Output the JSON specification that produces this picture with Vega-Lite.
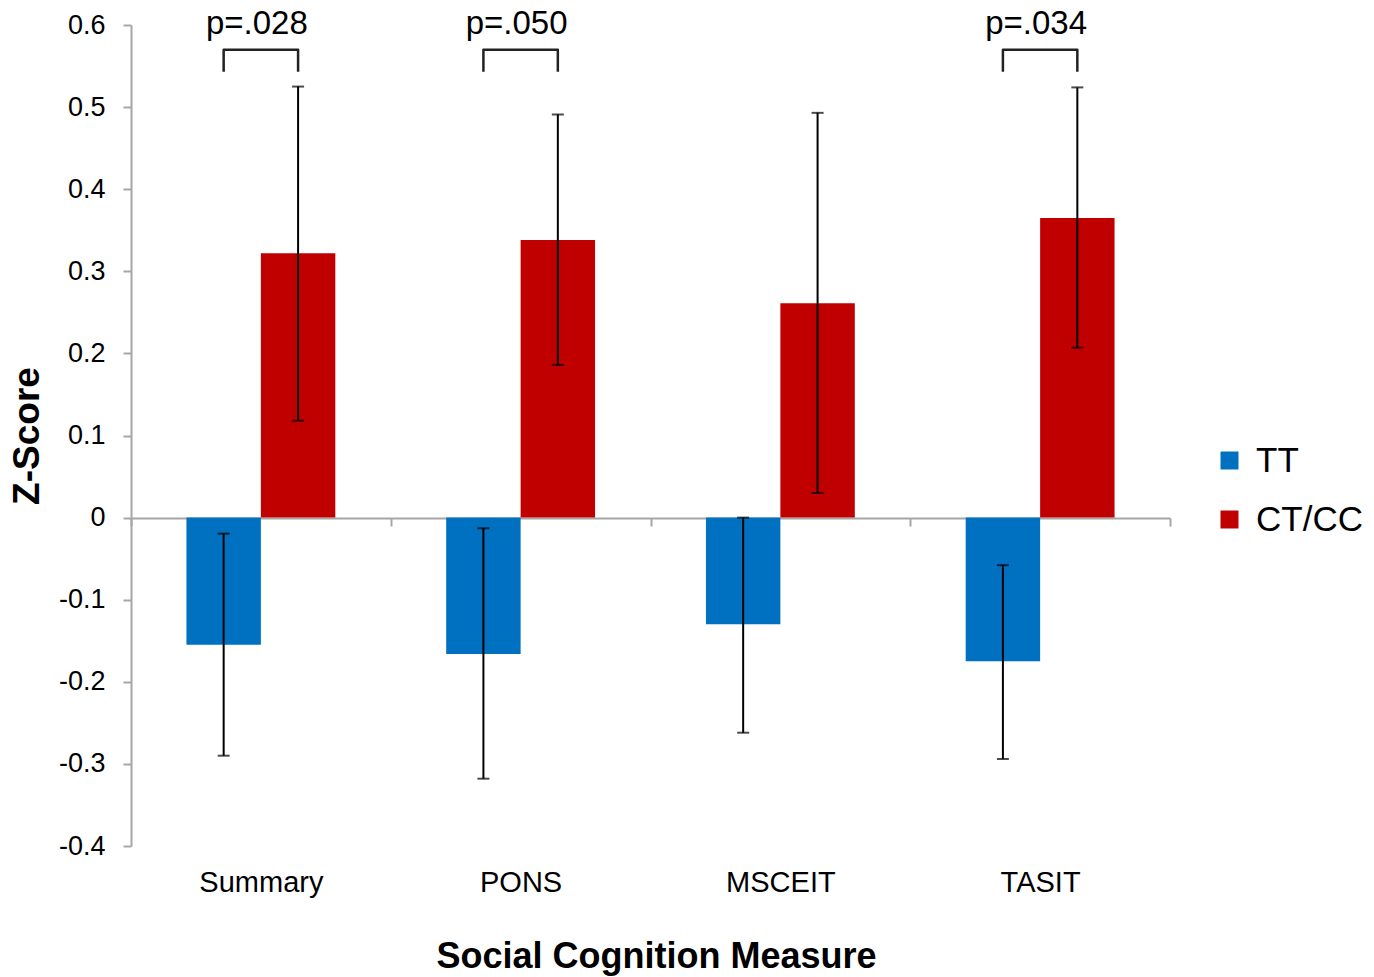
{
  "$schema": "https://vega.github.io/schema/vega-lite/v6.json",
  "width": 1039,
  "height": 821,
  "autosize": {"type": "none"},
  "padding": {"left": 131, "top": 25, "right": 204, "bottom": 131},
  "background": "white",
  "config": {
    "view": {"stroke": null},
    "font": "Liberation Sans",
    "axis": {"grid": false}
  },
  "datasets": {
    "bars": [
      {"measure": "Summary", "group": "TT", "value": -0.155, "lo": -0.29, "hi": -0.0195},
      {"measure": "Summary", "group": "CT/CC", "value": 0.322, "lo": 0.118, "hi": 0.525},
      {"measure": "PONS", "group": "TT", "value": -0.166, "lo": -0.318, "hi": -0.013},
      {"measure": "PONS", "group": "CT/CC", "value": 0.338, "lo": 0.186, "hi": 0.491},
      {"measure": "MSCEIT", "group": "TT", "value": -0.130, "lo": -0.262, "hi": 0.0},
      {"measure": "MSCEIT", "group": "CT/CC", "value": 0.261, "lo": 0.030, "hi": 0.493},
      {"measure": "TASIT", "group": "TT", "value": -0.175, "lo": -0.294, "hi": -0.058},
      {"measure": "TASIT", "group": "CT/CC", "value": 0.365, "lo": 0.207, "hi": 0.524}
    ],
    "brackets": [
      {"measure": "Summary", "group": "TT", "y": 0.543, "ord": 1},
      {"measure": "Summary", "group": "TT", "y": 0.570, "ord": 2},
      {"measure": "Summary", "group": "CT/CC", "y": 0.570, "ord": 3},
      {"measure": "Summary", "group": "CT/CC", "y": 0.543, "ord": 4},
      {"measure": "PONS", "group": "TT", "y": 0.543, "ord": 1},
      {"measure": "PONS", "group": "TT", "y": 0.570, "ord": 2},
      {"measure": "PONS", "group": "CT/CC", "y": 0.570, "ord": 3},
      {"measure": "PONS", "group": "CT/CC", "y": 0.543, "ord": 4},
      {"measure": "TASIT", "group": "TT", "y": 0.543, "ord": 1},
      {"measure": "TASIT", "group": "TT", "y": 0.570, "ord": 2},
      {"measure": "TASIT", "group": "CT/CC", "y": 0.570, "ord": 3},
      {"measure": "TASIT", "group": "CT/CC", "y": 0.543, "ord": 4}
    ],
    "pvals": [
      {"measure": "Summary", "label": "p=.028", "y": 0.589},
      {"measure": "PONS", "label": "p=.050", "y": 0.589},
      {"measure": "TASIT", "label": "p=.034", "y": 0.589}
    ]
  },
  "layer": [
    {
      "data": {"name": "bars"},
      "mark": {"type": "bar"},
      "encoding": {
        "x": {
          "field": "measure", "type": "nominal",
          "sort": ["Summary", "PONS", "MSCEIT", "TASIT"],
          "scale": {"paddingInner": 0, "paddingOuter": 0},
          "axis": {
            "orient": "bottom",
            "offset": -328,
            "title": "Social Cognition Measure",
            "titleFontSize": 36,
            "titleFontWeight": "bold",
            "titleColor": "black",
            "titleBaseline": "alphabetic",
            "titleY": 449,
            "titleX": 525,
            "labelFontSize": 29,
            "labelColor": "black",
            "labelAngle": 0,
            "labelPadding": 342,
            "tickBand": "extent",
            "tickSize": 8,
            "tickWidth": 2,
            "tickColor": "#a6a6a6",
            "domainColor": "#a6a6a6",
            "domainWidth": 2
          }
        },
        "xOffset": {
          "field": "group", "type": "nominal",
          "sort": ["TT", "CT/CC"],
          "scale": {"paddingInner": 0, "paddingOuter": 0.745}
        },
        "y": {
          "field": "value", "type": "quantitative",
          "scale": {"domain": [-0.4, 0.6], "nice": false, "zero": false},
          "axis": {
            "values": [-0.4, -0.3, -0.2, -0.1, 0, 0.1, 0.2, 0.3, 0.4, 0.5, 0.6],
            "labelExpr": "replace(format(datum.value, '.1~f'), '\u2212', '-')",
            "title": "Z-Score",
            "titleFontSize": 37,
            "titleFontWeight": "bold",
            "titleColor": "black",
            "titlePadding": 12,
            "labelFontSize": 27,
            "labelColor": "black",
            "labelPadding": 18,
            "tickSize": 8,
            "tickWidth": 2,
            "tickColor": "#a6a6a6",
            "domainColor": "#a6a6a6",
            "domainWidth": 2
          }
        },
        "color": {
          "field": "group", "type": "nominal",
          "sort": ["TT", "CT/CC"],
          "scale": {"domain": ["TT", "CT/CC"], "range": ["#0070C0", "#C00000"]},
          "legend": {
            "title": null,
            "orient": "none",
            "legendX": 1081,
            "legendY": 418,
            "symbolType": "square",
            "symbolSize": 324,
            "symbolStrokeWidth": 0,
            "labelFontSize": 35,
            "labelColor": "black",
            "labelOffset": 9,
            "rowPadding": 23,
            "padding": 0
          }
        }
      }
    },
    {
      "data": {"name": "bars"},
      "mark": {"type": "rule", "color": "black", "strokeWidth": 2},
      "encoding": {
        "x": {"field": "measure", "type": "nominal", "sort": ["Summary", "PONS", "MSCEIT", "TASIT"]},
        "xOffset": {"field": "group", "type": "nominal", "sort": ["TT", "CT/CC"]},
        "y": {"field": "lo", "type": "quantitative"},
        "y2": {"field": "hi"}
      }
    },
    {
      "data": {"name": "bars"},
      "mark": {"type": "tick", "color": "black", "orient": "horizontal", "size": 12, "thickness": 2},
      "encoding": {
        "x": {"field": "measure", "type": "nominal", "sort": ["Summary", "PONS", "MSCEIT", "TASIT"]},
        "xOffset": {"field": "group", "type": "nominal", "sort": ["TT", "CT/CC"]},
        "y": {"field": "lo", "type": "quantitative"}
      }
    },
    {
      "data": {"name": "bars"},
      "mark": {"type": "tick", "color": "black", "orient": "horizontal", "size": 12, "thickness": 2},
      "encoding": {
        "x": {"field": "measure", "type": "nominal", "sort": ["Summary", "PONS", "MSCEIT", "TASIT"]},
        "xOffset": {"field": "group", "type": "nominal", "sort": ["TT", "CT/CC"]},
        "y": {"field": "hi", "type": "quantitative"}
      }
    },
    {
      "data": {"name": "brackets"},
      "mark": {"type": "line", "color": "#222222", "strokeWidth": 2.5, "strokeJoin": "round"},
      "encoding": {
        "x": {"field": "measure", "type": "nominal", "sort": ["Summary", "PONS", "MSCEIT", "TASIT"]},
        "xOffset": {"field": "group", "type": "nominal", "sort": ["TT", "CT/CC"]},
        "y": {"field": "y", "type": "quantitative"},
        "detail": {"field": "measure"},
        "order": {"field": "ord", "type": "quantitative"}
      }
    },
    {
      "data": {"name": "pvals"},
      "mark": {"type": "text", "fontSize": 33, "color": "black", "baseline": "alphabetic", "align": "center", "dx": -4},
      "encoding": {
        "x": {"field": "measure", "type": "nominal", "sort": ["Summary", "PONS", "MSCEIT", "TASIT"]},
        "y": {"field": "y", "type": "quantitative"},
        "text": {"field": "label"}
      }
    }
  ]
}
